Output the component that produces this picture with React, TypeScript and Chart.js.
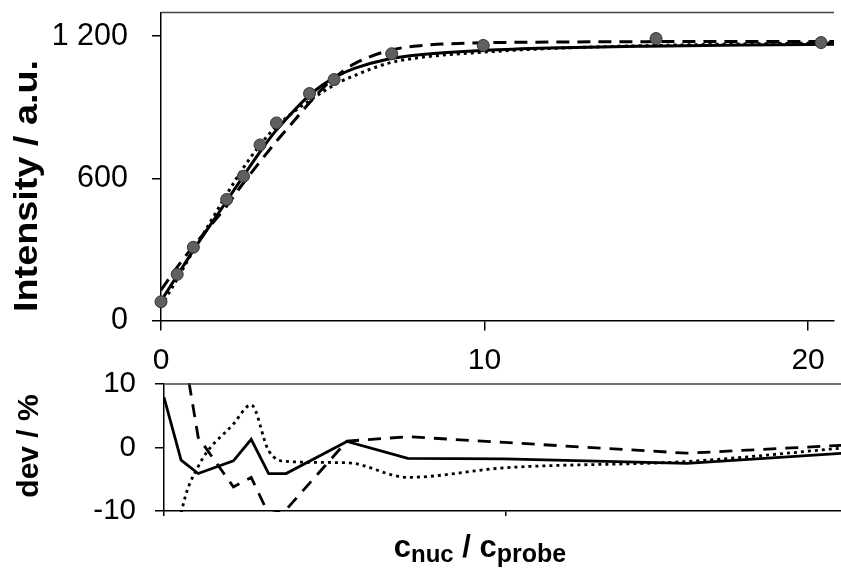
import React, { useEffect, useRef } from 'react';
import { Chart, registerables } from 'chart.js';

Chart.register(...registerables);

const FONT = 'Arial, "Liberation Sans", Helvetica, sans-serif';

// ---- measured data (top panel) ----
const concRatio = [0, 0.5, 1.0, 2.03, 2.55, 3.06, 3.57, 4.59, 5.35, 7.13, 9.96, 15.3, 20.4];
const intensity = [79, 195, 309, 511, 609, 741, 834, 958, 1017, 1126, 1161, 1190, 1173];

// ---- fitted curves (top panel) ----
const fitX = [0, 0.5, 1, 1.5, 2, 2.5, 3, 3.5, 4, 4.5, 5, 5.5, 6, 7, 8, 10, 12, 15, 18, 21];
const fitSolid = [82, 190, 296, 398, 498, 600, 700, 793, 870, 940, 995, 1035, 1065, 1103, 1122, 1140, 1150, 1158, 1163, 1166];
const fitDashed = [128, 225, 314, 396, 478, 572, 660, 745, 825, 905, 980, 1040, 1085, 1138, 1160, 1172, 1175, 1177, 1178, 1178];
const fitDotted = [60, 175, 295, 410, 525, 635, 730, 810, 870, 920, 965, 1005, 1035, 1085, 1110, 1133, 1148, 1160, 1167, 1172];

// ---- deviations (bottom panel, %) ----
const devX = [0, 0.5, 1.0, 2.03, 2.55, 3.06, 3.57, 5.35, 7.13, 9.96, 15.3, 20.4];
const devSolid = [7.9, -2.0, -4.1, -2.1, 1.3, -4.1, -4.1, 0.95, -1.7, -1.8, -2.5, -0.7];
const devDashed = [62, 17.7, 1.6, -6.2, -4.7, -10.5, -9.8, 1.0, 1.7, 0.8, -0.9, 0.5];
const devDotted = [-30, -10.5, -3.0, 3.7, 6.7, -0.5, -2.2, -2.4, -4.7, -3.2, -2.2, 0.2];

// ---- tick values ----
const topXTicks = [0, 10, 20];
const topYTicks = [0, 600, 1200];
const botXTicks = [0, 10];
const botYTicks = [-10, 0, 10];

const pts = (xs: number[], ys: number[]) => xs.map((x, i) => ({ x, y: ys[i] }));

const fmtThousands = (v: number) => {
  const n = Math.round(Number(v));
  if (Math.abs(n) >= 1000) {
    const th = Math.floor(n / 1000);
    return th + ' ' + String(Math.abs(n) % 1000).padStart(3, '0');
  }
  return String(n);
};

type Run = { text: string; size: number; dy?: number };
type TextItem = {
  x: number; y: number; rotate?: boolean; runs: Run[]; stretchTo?: number;
};

const makeTextPlugin = (id: string, items: TextItem[]) => ({
  id,
  afterDraw(chart: any) {
    const ctx: CanvasRenderingContext2D = chart.ctx;
    items.forEach((item) => {
      ctx.save();
      ctx.translate(item.x, item.y);
      if (item.rotate) ctx.rotate(-Math.PI / 2);
      ctx.fillStyle = '#000';
      ctx.textBaseline = 'alphabetic';
      ctx.textAlign = 'left';
      let total = 0;
      const widths = item.runs.map((r) => {
        ctx.font = `bold ${r.size}px ${FONT}`;
        const w = ctx.measureText(r.text).width;
        total += w;
        return w;
      });
      if (item.stretchTo) {
        ctx.scale(item.stretchTo / total, 1);
      }
      let cx = -total / 2;
      item.runs.forEach((r, i) => {
        ctx.font = `bold ${r.size}px ${FONT}`;
        ctx.fillText(r.text, cx, r.dy || 0);
        cx += widths[i];
      });
      ctx.restore();
    });
  },
});

const makeTopBorder = (id: string, color: string, width: number) => ({
  id,
  afterDraw(chart: any) {
    const { ctx, chartArea } = chart;
    ctx.save();
    ctx.strokeStyle = color;
    ctx.lineWidth = width;
    ctx.beginPath();
    ctx.moveTo(chartArea.left, chartArea.top);
    ctx.lineTo(chartArea.right, chartArea.top);
    ctx.stroke();
    ctx.restore();
  },
});

const axisCommon = (tickLength: number) => ({
  border: { display: true, color: '#000', width: 1.5 },
  grid: {
    display: true,
    drawOnChartArea: false,
    drawTicks: true,
    tickLength,
    color: '#000',
    lineWidth: 1.5,
  },
});

const fixY = (w: number) => (s: any) => {
  s.width = w;
  s.paddingTop = 0;
  s.paddingBottom = 0;
};
const fixX = (h: number) => (s: any) => {
  s.height = h;
  s.paddingLeft = 0;
  s.paddingRight = 0;
};

export default function App() {
  const topRef = useRef<HTMLCanvasElement>(null);
  const botRef = useRef<HTMLCanvasElement>(null);

  useEffect(() => {
    if (!topRef.current || !botRef.current) return;
    Chart.defaults.font.family = FONT;
    Chart.defaults.color = '#000';

    const lineDs = (data: any[], dash: number[], width: number, smooth: boolean, clip: any) => ({
      data,
      showLine: true,
      borderColor: '#000',
      backgroundColor: '#000',
      borderWidth: width,
      borderDash: dash,
      pointRadius: 0,
      pointHoverRadius: 0,
      tension: 0,
      cubicInterpolationMode: smooth ? 'monotone' : 'default',
      fill: false,
      clip,
    });

    const topChart = new Chart(topRef.current, {
      type: 'scatter',
      data: {
        datasets: [
          {
            data: pts(concRatio, intensity),
            showLine: false,
            pointRadius: 6,
            pointHoverRadius: 6,
            pointBackgroundColor: '#5f5f5f',
            pointBorderColor: '#333',
            pointBorderWidth: 1,
            clip: false,
          } as any,
          lineDs(pts(fitX, fitSolid), [], 3, true, 0),
          lineDs(pts(fitX, fitDashed), [13, 8], 3, true, 0),
          lineDs(pts(fitX, fitDotted), [3, 4], 3, true, 0),
        ],
      },
      options: {
        responsive: false,
        animation: false,
        events: [],
        layout: { padding: { top: 12.5, right: 0, left: 0, bottom: 573 - 320.5 - 62 } },
        plugins: { legend: { display: false }, tooltip: { enabled: false } },
        scales: {
          x: {
            type: 'linear',
            min: 0,
            max: 20.8,
            afterFit: fixX(62),
            afterBuildTicks: (s: any) => { s.ticks = topXTicks.map((v) => ({ value: v })); },
            ticks: { font: { size: 30 }, color: '#000', padding: 12, maxRotation: 0, autoSkip: false },
            ...axisCommon(10),
          },
          y: {
            type: 'linear',
            min: 0,
            max: 1300,
            afterFit: fixY(161),
            afterBuildTicks: (s: any) => { s.ticks = topYTicks.map((v) => ({ value: v })); },
            ticks: { font: { size: 30.5 }, color: '#000', padding: 24, callback: (v: any) => fmtThousands(v) },
            ...axisCommon(9),
          },
        },
      } as any,
      plugins: [
        makeTopBorder('topBorderA', '#444', 1.5),
        makeTextPlugin('topTitles', [
          { x: 37, y: 186, rotate: true, runs: [{ text: 'Intensity / a.u.', size: 34 }], stretchTo: 252 },
        ]),
      ],
    });

    const botChart = new Chart(botRef.current, {
      type: 'scatter',
      data: {
        datasets: [
          lineDs(pts(devX, devSolid), [], 2.8, false, 1),
          lineDs(pts(devX, devDashed), [13, 9], 2.8, false, 1),
          lineDs(pts(devX, devDotted), [3, 4], 2.8, true, 1),
        ],
      },
      options: {
        responsive: false,
        animation: false,
        events: [],
        layout: { padding: { top: 384, right: 0, left: 0, bottom: 573 - 511 - 30 } },
        plugins: { legend: { display: false }, tooltip: { enabled: false } },
        scales: {
          x: {
            type: 'linear',
            min: 0,
            max: 19.8,
            afterFit: fixX(30),
            afterBuildTicks: (s: any) => { s.ticks = botXTicks.map((v) => ({ value: v })); },
            ticks: { callback: () => '', font: { size: 10 } },
            ...axisCommon(5),
          },
          y: {
            type: 'linear',
            min: -10,
            max: 10,
            afterFit: fixY(164),
            afterBuildTicks: (s: any) => { s.ticks = botYTicks.map((v) => ({ value: v })); },
            ticks: { font: { size: 29.5 }, color: '#000', padding: 19 },
            ...axisCommon(9),
          },
        },
      } as any,
      plugins: [
        makeTopBorder('topBorderB', '#444', 1.5),
        makeTextPlugin('botTitles', [
          { x: 37.5, y: 446, rotate: true, runs: [{ text: 'dev / %', size: 30 }] },
          {
            x: 480,
            y: 557,
            runs: [
              { text: 'c', size: 31 },
              { text: 'nuc', size: 24, dy: 5 },
              { text: ' / ', size: 31 },
              { text: 'c', size: 31 },
              { text: 'probe', size: 25, dy: 5 },
            ],
          },
        ]),
      ],
    });

    return () => {
      topChart.destroy();
      botChart.destroy();
    };
  }, []);

  const cs: React.CSSProperties = { position: 'absolute', left: 0, top: 0, width: 841, height: 573 };
  return (
    <div style={{ position: 'fixed', left: 0, top: 0, width: 841, height: 573, background: '#fff' }}>
      <canvas ref={botRef} width={841} height={573} style={cs} />
      <canvas ref={topRef} width={841} height={573} style={cs} />
    </div>
  );
}
